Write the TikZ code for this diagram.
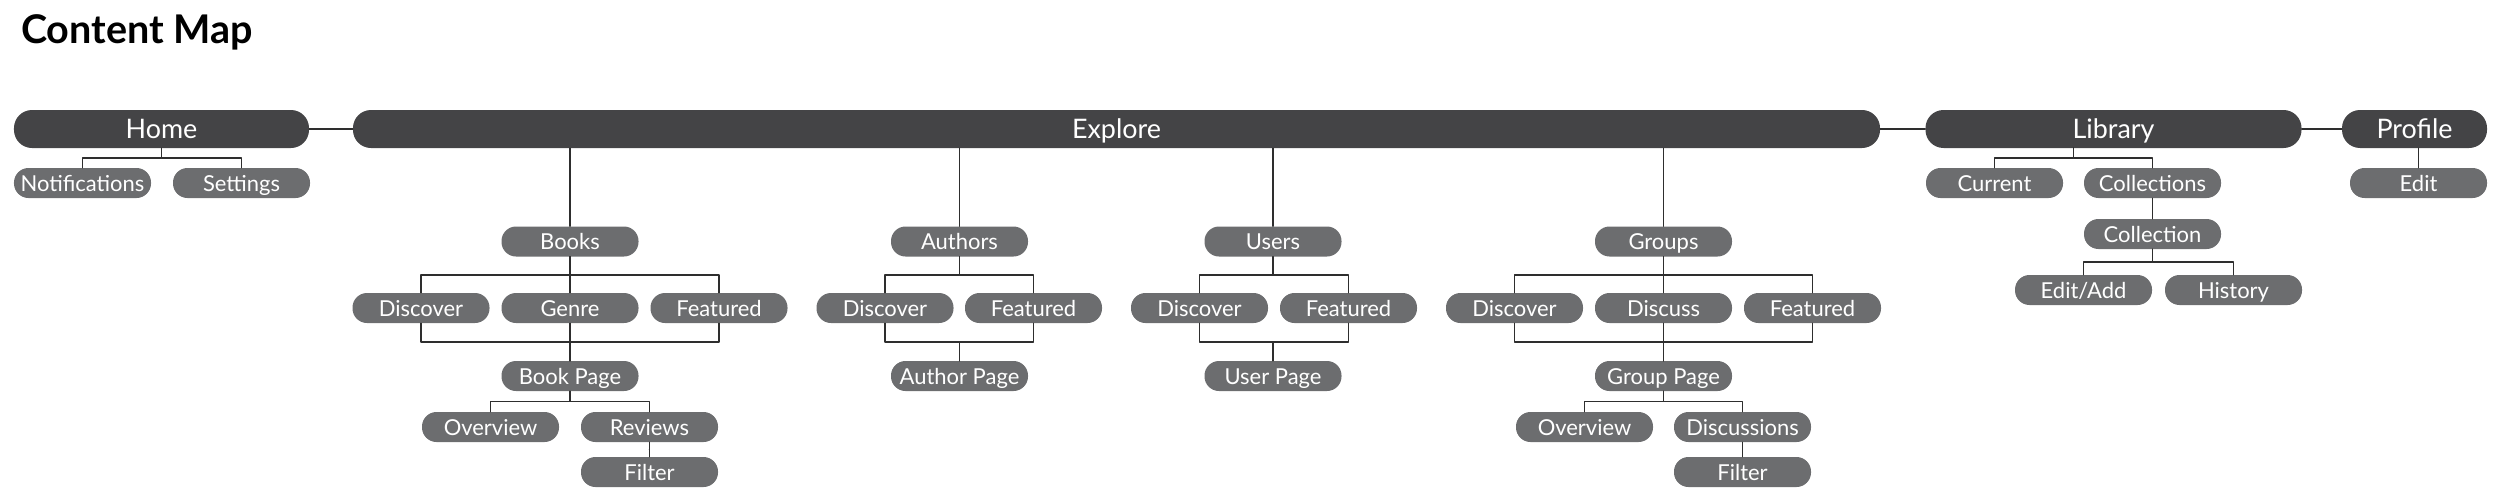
\documentclass[tikz,border=0pt]{standalone}
\usepackage{fontspec}
\setmainfont{Lato}
\usepackage{tikz}
\usetikzlibrary{calc,positioning}
\definecolor{bar}{HTML}{444446}
\definecolor{pill}{HTML}{6C6D6F}
\definecolor{wire}{HTML}{2E2E2E}
\tikzset{
  TopBar/.style={
    fill=bar, text=white,
    rounded corners=3.6mm,
    minimum height=7.6mm,
    inner sep=0pt,
    text height=3.8mm, text depth=0pt,
    font=\fontsize{15.3}{17}\selectfont
  },
  Page/.style={
    fill=pill, text=white,
    rounded corners=2.9mm,
    minimum height=6mm, minimum width=27.4mm,
    inner sep=0pt,
    text height=3.2mm, text depth=0pt,
    font=\fontsize{12.5}{14}\selectfont
  },
  Wire/.style={draw=wire, line width=0.9pt}
}
\newcommand{\Link}[3][]{%
  % #1 = start point (empty: south of #2)
  % #2 = upper node, #3 = lower node
  \if\relax\detokenize{#1}\relax
    \draw[Wire] (#2.south) |- ($(#2.south)!0.5!(#3.north)$) -| (#3.north);
  \else
    \draw[Wire] (#1) |- ($(#1)!0.5!(#3.north)$) -| (#3.north);
  \fi
}

\begin{document}
\begin{tikzpicture}[x=0.2mm, y=-0.2mm, line cap=round, line join=round]
  \useasboundingbox (0,0) rectangle (2500,500);

  \node[anchor=base west, font=\fontsize{22.5}{26}\selectfont\bfseries] (title) at (15,43) {Content Map};

  % top row
  \node[TopBar, minimum width=59mm]    (home)    at (161.5,129) {Home};
  \node[TopBar, minimum width=305.4mm] (explore) at (1116.5,129) {Explore};
  \node[TopBar, minimum width=75.2mm]  (library) at (2113.5,129) {Library};
  \node[TopBar, minimum width=29mm]    (profile) at (2414.5,129) {Profile};

  \draw[Wire] (home.east) -- (explore.west);
  \draw[Wire] (explore.east) -- (library.west);
  \draw[Wire] (library.east) -- (profile.west);

  % home
  \node[Page] (notif)    at (82.5,183)  {Notifications};
  \node[Page] (settings) at (241.5,183) {Settings};
  \Link{home}{notif}
  \Link{home}{settings}

  % explore: books
  \node[Page] (books)    at (570,241.5)   {Books};
  \node[Page] (bkdisc)   at (421,308)     {Discover};
  \node[Page] (genre)    at (570,308)     {Genre};
  \node[Page] (bkfeat)   at (719,308)     {Featured};
  \node[Page] (bookpage) at (570,376)     {Book Page};
  \node[Page] (bkover)   at (490.5,427)   {Overview};
  \node[Page] (reviews)  at (649.5,427)   {Reviews};
  \node[Page] (bkfilter) at (649.5,472)   {Filter};
  \draw[Wire] (books.north |- explore.south) -- (books.north);
  \foreach \n in {bkdisc,genre,bkfeat}{
    \Link{books}{\n}
    \Link{\n}{bookpage}
  }
  \Link{bookpage}{bkover}
  \Link{bookpage}{reviews}
  \Link{reviews}{bkfilter}

  % explore: authors
  \node[Page] (authors)  at (959.5,241.5) {Authors};
  \node[Page] (audisc)   at (885,308)     {Discover};
  \node[Page] (aufeat)   at (1033.5,308)  {Featured};
  \node[Page] (authpage) at (959.5,376)   {Author Page};
  \draw[Wire] (authors.north |- explore.south) -- (authors.north);
  \foreach \n in {audisc,aufeat}{
    \Link{authors}{\n}
    \Link{\n}{authpage}
  }

  % explore: users
  \node[Page] (users)    at (1273,241.5)  {Users};
  \node[Page] (usdisc)   at (1199.5,308)  {Discover};
  \node[Page] (usfeat)   at (1348.5,308)  {Featured};
  \node[Page] (userpage) at (1273,376)    {User Page};
  \draw[Wire] (users.north |- explore.south) -- (users.north);
  \foreach \n in {usdisc,usfeat}{
    \Link{users}{\n}
    \Link{\n}{userpage}
  }

  % explore: groups
  \node[Page] (groups)    at (1663.5,241.5) {Groups};
  \node[Page] (grdisc)    at (1514.5,308)   {Discover};
  \node[Page] (discuss)   at (1663.5,308)   {Discuss};
  \node[Page] (grfeat)    at (1812.5,308)   {Featured};
  \node[Page] (grouppage) at (1663.5,376)   {Group Page};
  \node[Page] (grover)    at (1584.5,427)   {Overview};
  \node[Page] (discussns) at (1742.5,427)   {Discussions};
  \node[Page] (grfilter)  at (1742.5,472)   {Filter};
  \draw[Wire] (groups.north |- explore.south) -- (groups.north);
  \foreach \n in {grdisc,discuss,grfeat}{
    \Link{groups}{\n}
    \Link{\n}{grouppage}
  }
  \Link{grouppage}{grover}
  \Link{grouppage}{discussns}
  \Link{discussns}{grfilter}

  % library
  \node[Page] (current)     at (1994.5,183) {Current};
  \node[Page] (collections) at (2152.5,183) {Collections};
  \node[Page] (collection)  at (2152.5,234) {Collection};
  \node[Page] (editadd)     at (2083.5,290) {Edit/Add};
  \node[Page] (history)     at (2233.5,290) {History};
  \coordinate (libstub) at (2073.5,148);
  \Link[libstub]{library}{current}
  \Link[libstub]{library}{collections}
  \Link{collections}{collection}
  \Link{collection}{editadd}
  \Link{collection}{history}

  % profile
  \node[Page] (edit) at (2418.5,183) {Edit};
  \draw[Wire] (edit.north |- profile.south) -- (edit.north);
\end{tikzpicture}
\end{document}
